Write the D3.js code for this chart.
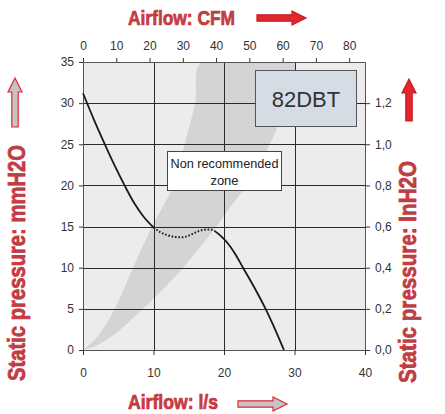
<!DOCTYPE html>
<html>
<head>
<meta charset="utf-8">
<script src="https://cdn.jsdelivr.net/npm/d3@7"></script>
<style>
	body { margin: 0; background: #fff; }
	svg { display: block; }
	.tick text { font-family: "Liberation Sans", Arial, sans-serif; font-size: 12px; fill: #333; }
</style>
</head>
<body>
<div id="chart"></div>
<script>
// axis ticks
const lps_ticks = [0, 10, 20, 30, 40];
const cfm_ticks = [0, 10, 20, 30, 40, 50, 60, 70, 80];
const mm_ticks = [0, 5, 10, 15, 20, 25, 30, 35];
const in_ticks = [0, 0.2, 0.4, 0.6, 0.8, 1.0, 1.2];

// fan curve (l/s, mmH2O)
const solid_a_x = [0, 1.5, 3.1, 4.5, 5.9, 7.3, 8.6, 10];
const solid_a_y = [31.2, 28.1, 25, 22.4, 20, 17.8, 16.2, 14.9];
const dotted_x = [10, 11, 12, 13, 14, 15, 16, 17, 18, 18.7];
const dotted_y = [14.9, 14.3, 13.95, 13.75, 13.7, 13.9, 14.3, 14.6, 14.65, 14.45];
const solid_b_x = [18.7, 19.5, 20.5, 21.5, 22.7, 24.3, 25.9, 27.2, 28.5];
const solid_b_y = [14.45, 13.9, 13.0, 11.8, 10, 7.6, 5, 2.6, 0];

// non recommended zone boundaries
const band_left_x = [0, 1, 2.4, 4.5, 7.1, 9.8, 12.8, 14.4, 15.9, 16.8];
const band_left_y = [0, 0.7, 2, 5, 10, 15, 20, 25, 30, 35];
const band_right_x = [29.8, 28.8, 26.5, 23.2, 21, 18.9, 14.2, 8.5, 4, 1.5, 0];
const band_right_y = [35, 30, 25, 20, 17.5, 15, 10, 5, 1.6, 0.4, 0];

const width = 445;
const height = 414;
const plot = { left: 83, right: 365, top: 62, bottom: 350 };
const red = "#e3262e";

const svg = d3
	.select("#chart")
	.append("svg")
	.attr("width", width)
	.attr("height", height);

const x = d3.scaleLinear().domain([0, 40]).range([plot.left, plot.right]);
const x_cfm = d3.scaleLinear().domain([0, 40 * 2.119]).range([plot.left, plot.right]);
const y = d3.scaleLinear().domain([0, 35]).range([plot.bottom, plot.top]);
const y_in = d3.scaleLinear().domain([0, 1.4]).range([plot.bottom, plot.top]);

svg.append("clipPath")
	.attr("id", "plot_clip")
	.append("rect")
	.attr("x", plot.left)
	.attr("y", plot.top)
	.attr("width", plot.right - plot.left)
	.attr("height", plot.bottom - plot.top);

// background
svg.append("rect")
	.attr("x", plot.left)
	.attr("y", plot.top)
	.attr("width", plot.right - plot.left)
	.attr("height", plot.bottom - plot.top)
	.attr("fill", "#ececec");

// grey band
const band_pts = band_left_x
	.map((d, i) => [d, band_left_y[i]])
	.concat(band_right_x.map((d, i) => [d, band_right_y[i]]));
svg.append("path")
	.attr("clip-path", "url(#plot_clip)")
	.attr("d", d3.line().x(d => x(d[0])).y(d => y(d[1])).curve(d3.curveCatmullRom)(band_pts) + "Z")
	.attr("fill", "#d3d4d6");

// grid
const grid = svg.append("g").attr("stroke", "#2a2a2a").attr("stroke-width", 1);
grid.selectAll(".vline")
	.data(lps_ticks.slice(1, -1))
	.join("line")
	.attr("x1", d => Math.round(x(d)) + 0.5)
	.attr("x2", d => Math.round(x(d)) + 0.5)
	.attr("y1", plot.top)
	.attr("y2", plot.bottom);
grid.selectAll(".hline")
	.data(mm_ticks.slice(1, -1))
	.join("line")
	.attr("x1", plot.left)
	.attr("x2", plot.right)
	.attr("y1", d => Math.round(y(d)) + 0.5)
	.attr("y2", d => Math.round(y(d)) + 0.5);

// axes
function style_axis(g) {
	g.select(".domain").attr("stroke", "#555");
	g.selectAll(".tick line").attr("stroke", "#333");
}
svg.append("g")
	.attr("transform", `translate(0,${plot.bottom})`)
	.call(d3.axisBottom(x).tickValues(lps_ticks).tickSize(5).tickSizeOuter(0).tickPadding(13))
	.call(style_axis);
svg.append("g")
	.attr("transform", `translate(0,${plot.top})`)
	.call(d3.axisTop(x_cfm).tickValues(cfm_ticks).tickSize(4).tickSizeOuter(0).tickPadding(8))
	.call(style_axis);
svg.append("g")
	.attr("transform", `translate(${plot.left},0)`)
	.call(d3.axisLeft(y).tickValues(mm_ticks).tickSize(4).tickSizeOuter(0).tickPadding(5))
	.call(style_axis);
svg.append("g")
	.attr("transform", `translate(${plot.right},0)`)
	.call(
		d3.axisRight(y_in)
			.tickValues(in_ticks)
			.tickSize(5)
			.tickSizeOuter(0)
			.tickPadding(5)
			.tickFormat(d => d3.format(".1f")(d).replace(".", ","))
	)
	.call(style_axis);

// fan curve
const line = d3.line().x(d => x(d[0])).y(d => y(d[1])).curve(d3.curveMonotoneX);
svg.append("path")
	.attr("d", line(solid_a_x.map((d, i) => [d, solid_a_y[i]])))
	.attr("fill", "none")
	.attr("stroke", "#1a1a1a")
	.attr("stroke-width", 1.8);
svg.append("path")
	.attr("d", line(dotted_x.map((d, i) => [d, dotted_y[i]])))
	.attr("fill", "none")
	.attr("stroke", "#1a1a1a")
	.attr("stroke-width", 2)
	.attr("stroke-dasharray", "1.6,1.8");
svg.append("path")
	.attr("d", line(solid_b_x.map((d, i) => [d, solid_b_y[i]])))
	.attr("fill", "none")
	.attr("stroke", "#1a1a1a")
	.attr("stroke-width", 1.8);

// boxes
svg.append("rect")
	.attr("x", 255.5)
	.attr("y", 70.5)
	.attr("width", 101)
	.attr("height", 56)
	.attr("fill", "#d5dce5")
	.attr("stroke", "#555");
svg.append("text")
	.attr("x", 306)
	.attr("y", 107)
	.attr("text-anchor", "middle")
	.attr("font-family", "Liberation Sans, Arial, sans-serif")
	.attr("font-size", 22)
	.attr("fill", "#333")
	.text("82DBT");

svg.append("rect")
	.attr("x", 167.5)
	.attr("y", 151.5)
	.attr("width", 114)
	.attr("height", 39)
	.attr("fill", "#fff")
	.attr("stroke", "#444");
svg.append("text")
	.attr("x", 224.5)
	.attr("y", 168)
	.attr("text-anchor", "middle")
	.attr("font-family", "Liberation Sans, Arial, sans-serif")
	.attr("font-size", 13)
	.attr("fill", "#222")
	.attr("textLength", 108)
	.attr("lengthAdjust", "spacingAndGlyphs")
	.text("Non recommended");
svg.append("text")
	.attr("x", 224.5)
	.attr("y", 185)
	.attr("text-anchor", "middle")
	.attr("font-family", "Liberation Sans, Arial, sans-serif")
	.attr("font-size", 13)
	.attr("fill", "#222")
	.text("zone");

// axis titles
function title(txt, tx, ty, rot, len, size) {
	svg.append("text")
		.attr("transform", `translate(${tx},${ty}) rotate(${rot})`)
		.attr("font-family", "Liberation Sans Narrow, Arial Narrow, Liberation Sans, sans-serif")
		.attr("font-weight", "bold")
		.attr("font-size", size)
		.attr("fill", "#a9484c")
		.attr("stroke", red)
		.attr("stroke-width", 0.7)
		.attr("textLength", len)
		.attr("lengthAdjust", "spacingAndGlyphs")
		.text(txt);
}
title("Airflow: CFM", 128, 25, 0, 107, 21);
title("Airflow: l/s", 128, 409, 0, 90, 21);
title("Static pressure: mmH2O", 25, 381, -90, 236, 23);
title("Static pressure: InH2O", 416, 383, -90, 222, 23);

// arrows (horizontal, pointing right, drawn from x0 with length L)
function arrow(tx, ty, rot, len, fill, stroke) {
	const shaft = 3.2, head = 7, hl = 14;
	const pts = [
		[0, -shaft], [len - hl, -shaft], [len - hl, -head], [len, 0],
		[len - hl, head], [len - hl, shaft], [0, shaft]
	];
	svg.append("path")
		.attr("transform", `translate(${tx},${ty}) rotate(${rot})`)
		.attr("d", d3.line()(pts) + "Z")
		.attr("fill", fill)
		.attr("stroke", stroke)
		.attr("stroke-width", 1.2);
}
arrow(257, 18, 0, 49, red, "#c51c24");
arrow(238, 404, 0, 49, "#c4c4c4", red);
arrow(15, 127, -90, 49, "#c4c4c4", red);
arrow(409, 121, -90, 42, red, "#c51c24");
</script>
</body>
</html>
